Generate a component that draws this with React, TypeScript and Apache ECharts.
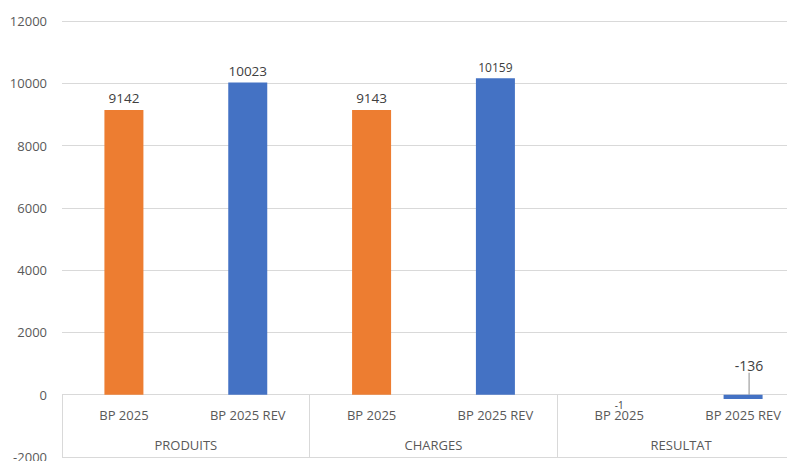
import React, { useEffect, useRef } from "react";
import * as echarts from "echarts";

const subCategories = ["BP 2025", "BP 2025 REV", "BP 2025", "BP 2025 REV", "BP 2025", "BP 2025 REV"];
const groups = ["PRODUITS", "CHARGES", "RESULTAT"];
const bp2025 = [9142, null, 9143, null, -1, null];
const bp2025Rev = [null, 10023, null, 10159, null, -136];
const yTicks = { min: -2000, max: 12000, interval: 2000 };

const FONT = "'Open Sans', 'Noto Sans', sans-serif";
const ORANGE = "#ED7D31";
const BLUE = "#4472C4";
const GRID_COLOR = "#d9d9d9";
const AXIS_TEXT = "#595959";
const LABEL_TEXT = "#404040";

export default function App() {
  const ref = useRef<HTMLDivElement>(null);

  useEffect(() => {
    if (!ref.current) return;
    const chart = echarts.init(ref.current, undefined, { renderer: "svg" });

    const labelSize: Record<string, number> = { "0-4": 10, "1-3": 12, "1-5": 14 };

    const buildData = (values: (number | null)[], sIdx: number) =>
      values.map((v, i) => {
        if (v === null) return null;
        const size = labelSize[`${sIdx}-${i}`] ?? 13.5;
        const item: any = { value: v, label: { fontSize: size } };
        if (sIdx === 0 && i === 4) item.label.position = "bottom";
        if (sIdx === 1 && i === 5) item.labelLine = { show: true, lineStyle: { color: "#8c8c8c", width: 1 } };
        return item;
      });

    chart.setOption({
      animation: false,
      grid: { left: 62, top: 21, width: 743, height: 436, containLabel: false, outerBoundsMode: "none" },
      xAxis: [
        {
          type: "category",
          data: subCategories,
          position: "bottom",
          axisLine: { show: false, onZero: false },
          axisTick: { show: false },
          axisLabel: { inside: true, interval: 0, margin: 34, lineHeight: 16, color: AXIS_TEXT, fontSize: 13, fontFamily: FONT },
          splitLine: { show: false },
        },
        {
          type: "category",
          data: groups,
          position: "bottom",
          axisLine: { show: false, onZero: false },
          axisTick: { show: true, inside: true, interval: 0, length: 62, alignWithLabel: false, lineStyle: { color: GRID_COLOR, width: 1 } },
          axisLabel: { inside: true, interval: 0, margin: 4, lineHeight: 16, color: AXIS_TEXT, fontSize: 13, fontFamily: FONT },
          splitLine: { show: false },
        },
      ],
      yAxis: {
        type: "value",
        min: yTicks.min,
        max: yTicks.max,
        interval: yTicks.interval,
        axisLine: { show: false },
        axisTick: { show: false },
        axisLabel: { margin: 15, color: AXIS_TEXT, fontSize: 13, fontFamily: FONT, formatter: (v: number) => String(v) },
        splitLine: { lineStyle: { color: GRID_COLOR, width: 1 } },
      },
      series: [
        {
          name: "BP 2025",
          type: "bar",
          stack: "all",
          barWidth: 39,
          data: buildData(bp2025, 0),
          itemStyle: { color: ORANGE },
          label: { show: true, position: "top", distance: 5, color: LABEL_TEXT, fontFamily: FONT },
        },
        {
          name: "BP 2025 REV",
          type: "bar",
          stack: "all",
          barWidth: 39,
          data: buildData(bp2025Rev, 1),
          itemStyle: { color: BLUE },
          label: { show: true, position: "top", distance: 5, color: LABEL_TEXT, fontFamily: FONT },
          labelLayout: (params: any) => {
            if (params.dataIndex === 5) return { dx: 6, dy: -17 };
            return {};
          },
        },
      ],
    });

    return () => chart.dispose();
  }, []);

  return <div ref={ref} style={{ width: 795, height: 461, marginLeft: -8, marginTop: -8 }} />;
}
